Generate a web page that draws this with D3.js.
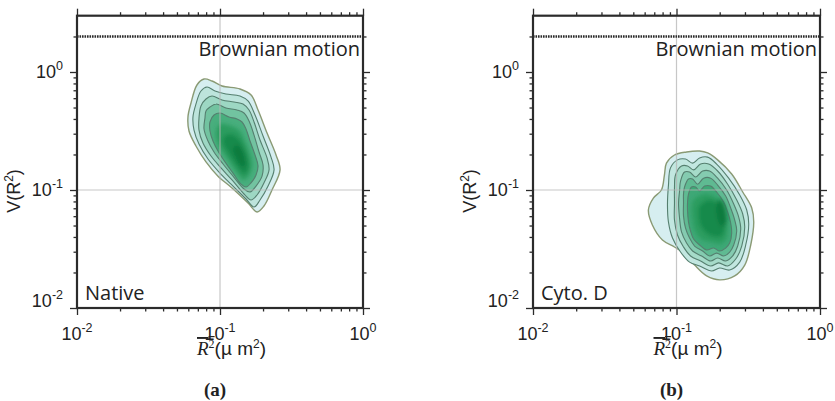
<!DOCTYPE html>
<html>
<head>
<meta charset="utf-8">
<script src="https://cdn.jsdelivr.net/npm/d3@7/dist/d3.min.js"></script>
<style>
  body { margin: 0; background: #fff; }
  svg { display: block; }
</style>
</head>
<body>
<svg id="fig" width="835" height="401"></svg>
<script>
// ---------- axis values ----------
const majorTicks = [0.01, 0.1, 1];
const tickExponents = ["-2", "-1", "0"];
const minorTicksX = [0.02, 0.03, 0.04, 0.05, 0.06, 0.07, 0.08, 0.09,
                     0.2, 0.3, 0.4, 0.5, 0.6, 0.7, 0.8, 0.9];
const minorTicksY = [0.02, 0.03, 0.04, 0.05, 0.06, 0.07, 0.08, 0.09,
                     0.2, 0.3, 0.4, 0.5, 0.6, 0.7, 0.8, 0.9, 2];
const vTop = 3;          // upper limit of V(R^2)
const brownianV = 2;     // V(R^2) for pure Brownian motion
const panelNames = ["Native", "Cyto. D"];
const panelTags = ["(a)", "(b)"];

// ---------- density contours, [R^2 (um^2), V(R^2)] ----------
// Native: outlined iso-density rings, outermost first
const nativeRings = [
  [[0.0690,0.776],[0.0773,0.872],[0.0879,0.839],[0.1033,0.761],[0.138,0.718],[0.165,0.638],
   [0.1845,0.476],[0.2133,0.304],[0.2466,0.198],[0.263,0.148],[0.231,0.100],[0.203,0.0732],
   [0.1816,0.0651],[0.157,0.0776],[0.1213,0.104],[0.0968,0.131],[0.0798,0.173],[0.0679,0.236],
   [0.0607,0.316],[0.0597,0.416],[0.0627,0.546]],
  [[0.0736,0.690],[0.0811,0.746],[0.0923,0.690],[0.110,0.651],[0.138,0.626],[0.157,0.568],
   [0.1758,0.432],[0.200,0.287],[0.2275,0.190],[0.2388,0.148],[0.2168,0.108],[0.1905,0.0823],
   [0.173,0.0717],[0.152,0.0839],[0.1194,0.112],[0.0984,0.142],[0.0824,0.183],[0.0713,0.245],
   [0.0658,0.322],[0.0647,0.416],[0.0679,0.536]],
  [[0.0798,0.590],[0.0879,0.626],[0.1033,0.579],[0.1253,0.557],[0.1449,0.536],[0.1596,0.476],
   [0.173,0.377],[0.1905,0.265],[0.2133,0.187],[0.2203,0.148],[0.2032,0.115],[0.1816,0.0907],
   [0.1648,0.0823],[0.1472,0.0925],[0.1213,0.1216],[0.1016,0.154],[0.0865,0.194],[0.0760,0.250],
   [0.0713,0.322],[0.0713,0.408],[0.0736,0.515]],
  [[0.0851,0.505],[0.0938,0.536],[0.110,0.495],[0.1315,0.476],[0.1472,0.449],[0.1596,0.384],
   [0.173,0.292],[0.1875,0.210],[0.200,0.163],[0.1968,0.131],[0.1787,0.108],[0.1622,0.0962],
   [0.1472,0.102],[0.1233,0.131],[0.1050,0.166],[0.0908,0.210],[0.0824,0.260],[0.0773,0.329],
   [0.0785,0.408],[0.0798,0.467]],
  [[0.0908,0.432],[0.100,0.449],[0.1156,0.416],[0.1315,0.400],[0.1426,0.377],[0.152,0.329],
   [0.1622,0.260],[0.1758,0.198],[0.1845,0.160],[0.1787,0.134],[0.1648,0.115],[0.152,0.106],
   [0.1403,0.112],[0.1233,0.139],[0.1084,0.173],[0.0968,0.214],[0.0893,0.260],[0.0851,0.316],
   [0.0851,0.377]]
];
// Native: high-density core levels (filled, no outline)
const nativeCores = [
  [[0.1016,0.362],[0.1194,0.349],[0.1358,0.322],[0.1472,0.271],[0.1622,0.202],[0.1675,0.160],
   [0.157,0.129],[0.1449,0.1216],[0.1315,0.139],[0.1138,0.180],[0.100,0.227],[0.0938,0.287],
   [0.0953,0.335]],
  [[0.1156,0.298],[0.1337,0.276],[0.1472,0.227],[0.157,0.180],[0.157,0.148],[0.1472,0.1367],
   [0.1315,0.160],[0.1156,0.202],[0.105,0.250],[0.1067,0.281]],
  [[0.1315,0.241],[0.1426,0.218],[0.1496,0.183],[0.1496,0.160],[0.1403,0.160],[0.1294,0.190],
   [0.1233,0.223]]
];

// Cyto. D: outlined iso-density rings, outermost first
const cytoRings = [
  [[0.0851,0.169],[0.0968,0.198],[0.1175,0.210],[0.1449,0.214],[0.1648,0.206],[0.1935,0.180],
   [0.2424,0.1367],[0.2894,0.0962],[0.3345,0.0703],[0.3454,0.0535],[0.3291,0.0342],[0.2989,0.0231],
   [0.2544,0.0187],[0.1999,0.0173],[0.1622,0.0187],[0.1337,0.0231],[0.1119,0.0292],[0.0968,0.0329],
   [0.0798,0.0377],[0.0679,0.0505],[0.0637,0.0677],[0.0690,0.0855],[0.0785,0.100],[0.0824,0.134]],
  [[0.0908,0.154],[0.1016,0.180],[0.1156,0.183],[0.1294,0.169],[0.1449,0.187],[0.1648,0.190],
   [0.1904,0.166],[0.2310,0.126],[0.2758,0.0907],[0.3086,0.0677],[0.3187,0.0515],[0.3037,0.0342],
   [0.2758,0.0245],[0.2348,0.0210],[0.1999,0.0218],[0.1758,0.0206],[0.1449,0.0227],[0.1233,0.0245],
   [0.1067,0.0298],[0.0938,0.0392],[0.0879,0.0535],[0.0865,0.0746],[0.0879,0.110]],
  [[0.0984,0.134],[0.1084,0.160],[0.1194,0.160],[0.1315,0.148],[0.1472,0.166],[0.1675,0.166],
   [0.1935,0.1449],[0.2273,0.112],[0.2628,0.0823],[0.2894,0.0626],[0.2989,0.0486],[0.2848,0.0335],
   [0.2586,0.0260],[0.2273,0.0227],[0.1967,0.0241],[0.1730,0.0227],[0.1472,0.0250],[0.1253,0.0276],
   [0.1119,0.0329],[0.1016,0.0416],[0.0968,0.0557],[0.0968,0.0776],[0.0968,0.104]],
  [[0.1067,0.119],[0.1138,0.142],[0.1233,0.142],[0.1358,0.129],[0.1520,0.1449],[0.1702,0.1449],
   [0.1935,0.126],[0.2237,0.100],[0.2504,0.0761],[0.2714,0.0590],[0.2803,0.0467],[0.2670,0.0335],
   [0.2464,0.0276],[0.2201,0.0250],[0.1935,0.0265],[0.1730,0.0250],[0.1496,0.0276],[0.1294,0.0304],
   [0.1175,0.0355],[0.1084,0.0441],[0.1050,0.0579],[0.1033,0.0776],[0.1050,0.0981]],
  [[0.1138,0.106],[0.1213,0.124],[0.1294,0.124],[0.1403,0.112],[0.1545,0.126],[0.1730,0.126],
   [0.1935,0.110],[0.2201,0.0889],[0.2386,0.0703],[0.2544,0.0557],[0.2628,0.0449],[0.2504,0.0342],
   [0.2348,0.0298],[0.2132,0.0276],[0.1904,0.0292],[0.1702,0.0276],[0.1520,0.0304],[0.1337,0.0335],
   [0.1233,0.0392],[0.1156,0.0476],[0.1119,0.0602],[0.1119,0.0776],[0.1119,0.0925]],
  [[0.1213,0.0925],[0.1273,0.106],[0.1358,0.106],[0.1449,0.0981],[0.1570,0.108],[0.1730,0.108],
   [0.1904,0.0962],[0.2132,0.0791],[0.2273,0.0651],[0.2386,0.0525],[0.2424,0.0432],[0.2348,0.0355],
   [0.2201,0.0322],[0.1999,0.0304],[0.1815,0.0322],[0.1622,0.0310],[0.1449,0.0342],[0.1315,0.0384],
   [0.1253,0.0449],[0.1213,0.0535],[0.1194,0.0664],[0.1194,0.0791]]
];
// Cyto. D: high-density core levels (filled, no outline)
const cytoCores = [
  [[0.1315,0.0823],[0.1570,0.0925],[0.1815,0.0889],[0.2031,0.0776],[0.2201,0.0626],[0.2273,0.0476],
   [0.2201,0.0377],[0.1999,0.0349],[0.1758,0.0362],[0.1520,0.0377],[0.1358,0.0441],[0.1294,0.0557],
   [0.1273,0.0703]],
  [[0.1449,0.0732],[0.1702,0.0823],[0.1935,0.0761],[0.2098,0.0626],[0.2166,0.0486],[0.2064,0.0408],
   [0.1875,0.0400],[0.1622,0.0432],[0.1472,0.0505],[0.1426,0.0614]],
  [[0.198,0.0837],[0.212,0.0773],[0.222,0.0637],[0.222,0.0524],[0.208,0.0485],[0.196,0.0545],
   [0.190,0.0675]]
];

// ---------- styling ----------
const ringFills5 = ["#d6eef0", "#bde4dc", "#9dd7c3", "#72c3a0", "#48ae7d"];
const ringFills6 = ["#d6eef0", "#c2e7e0", "#a6dbc9", "#84cbb0", "#5fba92", "#3ea876"];
const coreFills = ["#2a9c5e", "#178a4b", "#0a7a3c"];
const outerStroke = "#8a9a74";
const innerStroke = "#557f6f";
const axisColor = "#2b2b2b";
const sansFont = "'Liberation Sans', Arial, sans-serif";
const labelFont = "'Open Sans', 'Noto Sans', sans-serif";

const svg = d3.select("#fig");
const defs = svg.append("defs");
defs.append("filter").attr("id", "soft")
  .attr("x", "-20%").attr("y", "-20%").attr("width", "140%").attr("height", "140%")
  .append("feGaussianBlur").attr("stdDeviation", 2.2);

const panels = [
  { left: 77,  width: 286, rings: nativeRings, cores: nativeCores, fills: ringFills5 },
  { left: 533, width: 287, rings: cytoRings,   cores: cytoCores,   fills: ringFills6 }
];

panels.forEach((p, i) => {
  const x = d3.scaleLog().domain([0.01, 1]).range([p.left, p.left + p.width]);
  const y = d3.scaleLog().domain([0.01, 1]).range([308, 72]);
  const xL = x(0.01), xR = x(1), yB = y(0.01), yT = y(vTop);
  const g = svg.append("g");

  const contour = d3.line()
    .x(d => x(d[0])).y(d => y(d[1]))
    .curve(d3.curveCatmullRomClosed.alpha(0.5));

  // filled, outlined density rings
  g.append("g").selectAll("path").data(p.rings).join("path")
    .attr("d", contour)
    .attr("fill", (d, k) => p.fills[k])
    .attr("stroke", (d, k) => k === 0 ? outerStroke : innerStroke)
    .attr("stroke-width", (d, k) => k === 0 ? 1.4 : 1.1)
    .attr("stroke-linejoin", "round");

  // smooth high-density core
  g.append("g").attr("filter", "url(#soft)")
    .selectAll("path").data(p.cores).join("path")
    .attr("d", contour)
    .attr("fill", (d, k) => coreFills[k]);

  // reference grid lines at 10^-1
  g.append("line")
    .attr("x1", x(0.1)).attr("x2", x(0.1)).attr("y1", yT).attr("y2", yB)
    .attr("stroke", "#b4b4b4").attr("stroke-opacity", 0.75).attr("stroke-width", 1.2);
  g.append("line")
    .attr("x1", xL).attr("x2", xR).attr("y1", y(0.1)).attr("y2", y(0.1))
    .attr("stroke", "#b4b4b4").attr("stroke-opacity", 0.75).attr("stroke-width", 1.2);

  // Brownian motion level
  g.append("line")
    .attr("x1", xL).attr("x2", xR).attr("y1", y(brownianV)).attr("y2", y(brownianV))
    .attr("stroke", axisColor).attr("stroke-width", 2.4)
    .attr("stroke-dasharray", "1.6,0.9");
  g.append("text")
    .attr("x", xR - 3).attr("y", 56)
    .attr("text-anchor", "end")
    .attr("font-family", labelFont).attr("font-size", 20).attr("fill", "#222")
    .text("Brownian motion");

  // ticks on all four sides (outward)
  const tickAxes = [
    [d3.axisBottom(x), `translate(0,${yB})`, minorTicksX],
    [d3.axisTop(x),    `translate(0,${yT})`, minorTicksX],
    [d3.axisLeft(y),   `translate(${xL},0)`, minorTicksY],
    [d3.axisRight(y),  `translate(${xR},0)`, minorTicksY]
  ];
  tickAxes.forEach(([ax, tr, minor]) => {
    [[minor, 3.5], [majorTicks, 7]].forEach(([vals, size]) => {
      const a = g.append("g").attr("transform", tr)
        .call(ax.tickValues(vals).tickSize(size).tickFormat(""));
      a.select(".domain").remove();
      a.selectAll("line").attr("stroke", axisColor).attr("stroke-width", 1.3);
    });
  });

  // frame
  g.append("rect")
    .attr("x", xL).attr("y", yT).attr("width", xR - xL).attr("height", yB - yT)
    .attr("fill", "none").attr("stroke", axisColor).attr("stroke-width", 2.2);

  // x tick labels
  majorTicks.forEach((v, k) => {
    const t = g.append("text")
      .attr("x", x(v)).attr("y", 340).attr("text-anchor", "middle")
      .attr("font-family", sansFont).attr("font-size", 18).attr("fill", "#222");
    t.append("tspan").text("10");
    t.append("tspan").attr("dy", -8).attr("font-size", 12.5).text(tickExponents[k]);
  });
  // y tick labels
  majorTicks.forEach((v, k) => {
    const t = g.append("text")
      .attr("x", xL - 14).attr("y", v === 0.01 ? y(v) - 1.5 : y(v) + 6)
      .attr("text-anchor", "end")
      .attr("font-family", sansFont).attr("font-size", 18).attr("fill", "#222");
    t.append("tspan").text("10");
    t.append("tspan").attr("dy", -8).attr("font-size", 12.5).text(tickExponents[k]);
  });

  // axis titles
  const xt = g.append("text")
    .attr("x", x(0.1) - 23).attr("y", 355)
    .attr("font-size", 19).attr("fill", "#222");
  xt.append("tspan").attr("font-family", "'Liberation Serif', serif")
    .attr("font-style", "italic").attr("text-decoration", "overline").text("R");
  xt.append("tspan").attr("font-family", "'Liberation Serif', serif")
    .attr("font-size", 12).attr("dy", -7).attr("text-decoration", "overline").text("2");
  xt.append("tspan").attr("font-family", sansFont).attr("dy", 7).text("(\u00b5 m");
  xt.append("tspan").attr("font-family", sansFont).attr("font-size", 12).attr("dy", -7).text("2");
  xt.append("tspan").attr("font-family", sansFont).attr("dy", 7).text(")");

  const yt = g.append("text")
    .attr("transform", `translate(${xL - 57},191) rotate(-90)`)
    .attr("text-anchor", "middle")
    .attr("font-family", sansFont).attr("font-size", 18).attr("fill", "#222");
  yt.append("tspan").text("V(R");
  yt.append("tspan").attr("dy", -7).attr("font-size", 12).text("2");
  yt.append("tspan").attr("dy", 7).text(")");

  // condition label
  g.append("text")
    .attr("x", xL + 8).attr("y", 300)
    .attr("font-family", labelFont).attr("font-size", 20).attr("fill", "#222")
    .text(panelNames[i]);

  // sub-figure tag
  g.append("text")
    .attr("x", x(0.1) - 5).attr("y", 396).attr("text-anchor", "middle")
    .attr("font-family", "'Liberation Serif', serif").attr("font-weight", "bold")
    .attr("font-size", 19).attr("fill", "#222")
    .text(panelTags[i]);
});
</script>
</body>
</html>
